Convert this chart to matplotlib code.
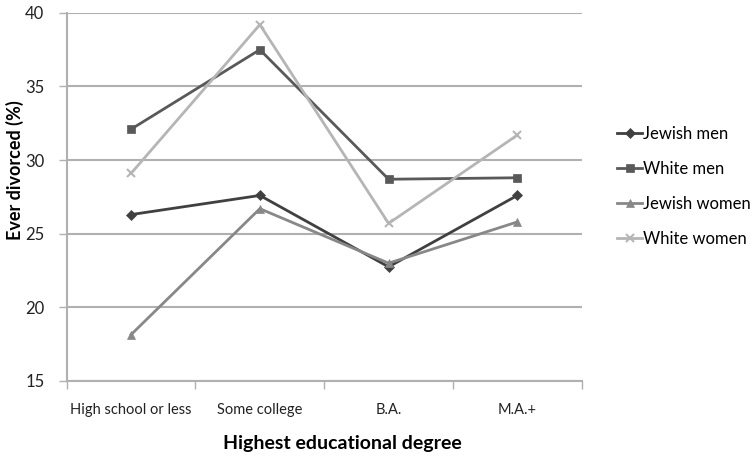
import numpy as np
import matplotlib.pyplot as plt

plt.rcParams['font.family'] = ['Lato', 'DejaVu Sans']

# Datos
categorias = ['High school or less', 'Some college', 'B.A.', 'M.A.+']
jewish_men = [26.3, 27.6, 22.75, 27.6]
white_men = [32.1, 37.5, 28.7, 28.8]
jewish_women = [18.15, 26.7, 23.0, 25.8]
white_women = [29.1, 39.2, 25.7, 31.7]
y_ticks = [15, 20, 25, 30, 35, 40]

series = [
    ('Jewish men', jewish_men, '#404040', 'D', 5),
    ('White men', white_men, '#595959', 's', 6),
    ('Jewish women', jewish_women, '#888888', '^', 6),
    ('White women', white_women, '#b5b5b5', 'x', 6),
]

fig = plt.figure(figsize=(7.54, 4.59), dpi=100)
ax = fig.add_axes([0.0885, 0.170, 0.683, 0.802])

x = np.arange(len(categorias))
for nombre, valores, color, marcador, tam in series:
    ax.plot(x, valores, color=color, marker=marcador, markersize=tam,
            linewidth=2, label=nombre,
            markeredgewidth=1.5 if marcador == 'x' else 0.5,
            markeredgecolor=color, zorder=3)

# Ejes y rejilla
ax.set_ylim(15, 40)
ax.set_yticks(y_ticks)
ax.set_xlim(-0.5, len(categorias) - 0.5)
ax.set_xticks(np.arange(-0.5, len(categorias)), labels=[''] * (len(categorias) + 1))
ax.set_xticks(x, labels=categorias, minor=True)
ax.tick_params(axis='x', which='minor', length=0, labelsize=10.5, pad=16,
               labelcolor='#222222')
ax.tick_params(axis='x', which='major', length=6, color='#b0b0b0', width=1)
ax.tick_params(axis='y', length=6, color='#b0b0b0', width=1, labelsize=12,
               labelcolor='#222222', pad=10)
ax.yaxis.grid(True, color='#b0b0b0', linewidth=1.5)
ax.set_axisbelow(True)
for lado in ['top', 'right']:
    ax.spines[lado].set_visible(False)
for lado in ['left', 'bottom']:
    ax.spines[lado].set_color('#b0b0b0')
    ax.spines[lado].set_linewidth(1.5)

ax.set_ylabel('Ever divorced (%)', fontsize=13, fontweight='bold')
ax.yaxis.set_label_coords(-0.083, 0.573)
ax.set_xlabel('Highest educational degree', fontsize=14, fontweight='bold',
              labelpad=13)
ax.xaxis.label.set_x(0.536)

fig.legend(loc='center left', bbox_to_anchor=(617 / 754, 0.594), frameon=False,
           fontsize=12, handlelength=1.5, handletextpad=0.05, labelspacing=1.15,
           borderpad=0, borderaxespad=0)

fig.savefig('out.png', dpi=100)
